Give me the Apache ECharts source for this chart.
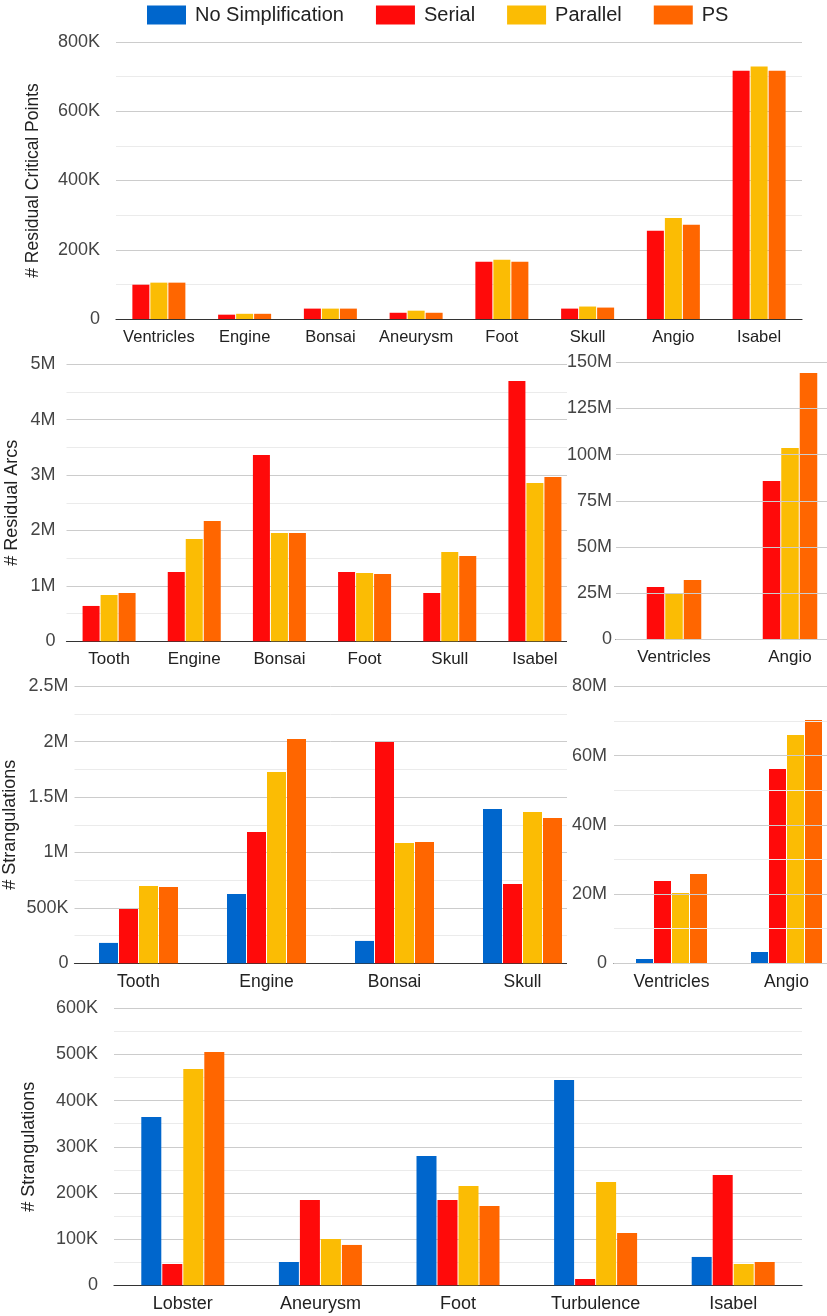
<!DOCTYPE html>
<html>
<head>
<meta charset="utf-8">
<script src="https://cdn.jsdelivr.net/npm/echarts@6/dist/echarts.min.js"></script>
<style>
html,body{margin:0;padding:0;background:#fff;}
#chart{width:827px;height:1316px;}
</style>
</head>
<body>
<div id="chart"></div>
<script>
const seriesNames = ['No Simplification', 'Serial', 'Parallel', 'PS'];
const seriesColors = ['#0066cc', '#ff0a0a', '#fbbc04', '#ff6600'];

// Panel 1: # Residual Critical Points
const cats1 = ['Ventricles', 'Engine', 'Bonsai', 'Aneurysm', 'Foot', 'Skull', 'Angio', 'Isabel'];
const serial1 = [99000, 12500, 30000, 18000, 165000, 30000, 255000, 717000];
const parallel1 = [105000, 15000, 30000, 24000, 171000, 36000, 292000, 729000];
const ps1 = [105000, 15000, 30000, 18000, 165000, 33000, 272000, 717000];

// Panel 2 left: # Residual Arcs
const cats2 = ['Tooth', 'Engine', 'Bonsai', 'Foot', 'Skull', 'Isabel'];
const serial2 = [638000, 1250000, 3363000, 1250000, 872000, 4699000];
const parallel2 = [836000, 1847000, 1955000, 1233000, 1612000, 2858000];
const ps2 = [872000, 2172000, 1955000, 1215000, 1540000, 2966000];

// Panel 2 right: # Residual Arcs (large)
const cats3 = ['Ventricles', 'Angio'];
const serial3 = [28300000, 85700000];
const parallel3 = [24900000, 103600000];
const ps3 = [32100000, 144200000];

// Panel 3 left: # Strangulations
const cats4 = ['Tooth', 'Engine', 'Bonsai', 'Skull'];
const noSimp4 = [184000, 626000, 202000, 1393000];
const serial4 = [490000, 1185000, 1998000, 716000];
const parallel4 = [698000, 1727000, 1086000, 1366000];
const ps4 = [689000, 2025000, 1095000, 1312000];

// Panel 3 right: # Strangulations (large)
const cats5 = ['Ventricles', 'Angio'];
const noSimp5 = [1250000, 3270000];
const serial5 = [23800000, 56100000];
const parallel5 = [20300000, 65900000];
const ps5 = [25800000, 70300000];

// Panel 4: # Strangulations
const cats6 = ['Lobster', 'Aneurysm', 'Foot', 'Turbulence', 'Isabel'];
const noSimp6 = [364600, 50500, 280100, 444800, 61400];
const serial6 = [46200, 184800, 184800, 13700, 239000];
const parallel6 = [468600, 100400, 215200, 223800, 46200];
const ps6 = [505400, 87400, 171800, 113400, 50500];

// Axis ranges / tick labels
const yMax = [800000, 5000000, 150000000, 2500000, 80000000, 600000];
const yStep = [200000, 1000000, 25000000, 500000, 20000000, 100000];
const yNames = ['# Residual Critical Points', '# Residual Arcs', '', '# Strangulations', '', '# Strangulations'];

function fmt(v) {
  if (v === 0) return '0';
  if (v >= 1e6) return (v / 1e6) + 'M';
  return (v / 1e3) + 'K';
}

const FONT = '"Liberation Sans", Arial, sans-serif';

const grids = [
  {left: 116, top: 42, width: 686, height: 277},
  {left: 66.5, top: 364.3, width: 511, height: 277},
  {left: 616, top: 362.3, width: 232, height: 277},
  {left: 74.5, top: 686.3, width: 512, height: 277},
  {left: 614, top: 686.3, width: 230, height: 277},
  {left: 114, top: 1008.3, width: 688, height: 277}
].map(g => Object.assign(g, {containLabel: false, outerBoundsMode: 'none'}));
const catsAll = [cats1, cats2, cats3, cats4, cats5, cats6];
const catFont = [16.5, 17, 17, 17.5, 17.5, 18];
const yMargin = [16, 11, 4, 6, 7, 16];
const nameGaps = [74, 45, 0, 55, 0, 76];
const nameFont = [17.5, 18, 16, 18, 16, 18];
const minorShow = [true, true, false, true, true, true];
const barW = [17, 17, 17.5, 19, 17, 20];

const xAxes = grids.map((g, i) => ({
  type: 'category', gridIndex: i, data: catsAll[i],
  axisLine: {lineStyle: {color: '#333', width: 1.2}},
  axisTick: {show: false},
  axisLabel: {interval: 0, fontFamily: FONT, fontSize: catFont[i], color: '#222', margin: 10}
}));

const yAxes = grids.map((g, i) => ({
  type: 'value', gridIndex: i, min: 0, max: yMax[i], interval: yStep[i],
  z: (i === 2 || i === 4) ? 100 : 0,
  name: yNames[i], nameLocation: 'middle', nameGap: nameGaps[i], nameMoveOverlap: false,
  nameTextStyle: {fontFamily: FONT, fontSize: nameFont[i], color: '#222'},
  axisLine: {show: false}, axisTick: {show: false},
  axisLabel: {fontFamily: FONT, fontSize: 18, color: '#444', margin: yMargin[i], formatter: fmt},
  splitLine: {lineStyle: {color: '#cccccc', width: 1}},
  minorTick: {show: false, splitNumber: 2},
  minorSplitLine: {show: minorShow[i], lineStyle: {color: '#ebebeb', width: 1}}
}));

const panelData = [
  [null, serial1, parallel1, ps1],
  [null, serial2, parallel2, ps2],
  [null, serial3, parallel3, ps3],
  [noSimp4, serial4, parallel4, ps4],
  [noSimp5, serial5, parallel5, ps5],
  [noSimp6, serial6, parallel6, ps6]
];

const series = [];
panelData.forEach((arrs, p) => {
  arrs.forEach((arr, k) => {
    if (!arr) return;
    series.push({
      type: 'bar', name: seriesNames[k], xAxisIndex: p, yAxisIndex: p,
      data: arr, barWidth: barW[p], barGap: (1 / barW[p] * 100) + '%',
      itemStyle: {color: seriesColors[k]},
      emphasis: {disabled: true}
    });
  });
});

const chart = echarts.init(document.getElementById('chart'), null, {renderer: 'canvas'});
chart.setOption({
  animation: false,
  backgroundColor: '#fff',
  color: seriesColors,
  legend: {
    data: seriesNames, left: 142, top: 0, icon: 'rect',
    itemWidth: 39, itemHeight: 19, itemGap: 32,
    textStyle: {fontFamily: FONT, fontSize: 20, color: '#222', padding: [0, 0, 0, 4]}
  },
  grid: grids,
  xAxis: xAxes,
  yAxis: yAxes,
  series: series,
  graphic: [
    {type: 'rect', z: 50, shape: {x: 567, y: 352, width: 48, height: 300}, style: {fill: '#fff'}},
    {type: 'rect', z: 50, shape: {x: 567, y: 676, width: 46, height: 300}, style: {fill: '#fff'}}
  ]
});
</script>
</body>
</html>
